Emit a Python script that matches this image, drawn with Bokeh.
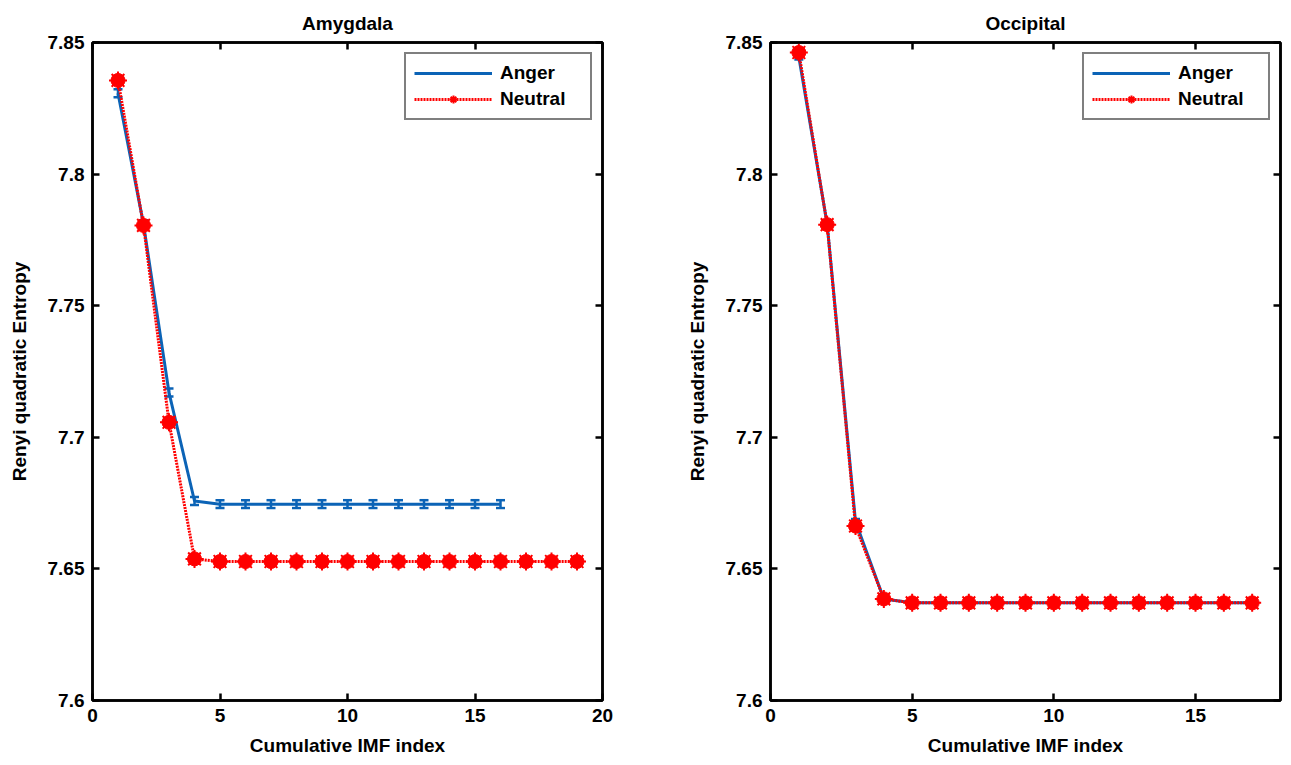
from bokeh.plotting import figure
from bokeh.layouts import row
from bokeh.models import (ColumnDataSource, Whisker, TeeHead, LinearAxis, FixedTicker,
                          NumeralTickFormatter, Legend, LegendItem, Range1d)
from bokeh.embed import file_html
from bokeh.resources import INLINE

# ---------------- data ----------------
amy_anger_x = list(range(1, 17))
amy_anger_y = [7.8307, 7.7810, 7.7170, 7.6758] + [7.6746] * 12
amy_anger_err = [0.0015] * 16
amy_neutral_x = list(range(1, 20))
amy_neutral_y = [7.8356, 7.7805, 7.7057, 7.6538] + [7.6528] * 15

occ_anger_x = list(range(1, 18))
occ_anger_y = [7.8445, 7.7810, 7.6680, 7.6386] + [7.6371] * 13
occ_anger_err = [0.0010] * 17
occ_neutral_x = list(range(1, 18))
occ_neutral_y = [7.8462, 7.7808, 7.6663, 7.6386] + [7.6371] * 13

titles = ["Amygdala", "Occipital"]
x_label = "Cumulative IMF index"
y_label = "Renyi quadratic Entropy"
y_ticks = [7.6, 7.65, 7.7, 7.75, 7.8, 7.85]
left_x_ticks = [0, 5, 10, 15, 20]
right_x_ticks = [0, 5, 10, 15]

BLUE = "#0b63b6"
RED = "#ff0000"
FONT = "Liberation Sans"
FS = "19px"


def style_axis(ax, ticks, show_labels=True):
    ax.ticker = FixedTicker(ticks=ticks)
    ax.axis_line_color = "black"
    ax.axis_line_width = 2.5
    ax.major_tick_line_color = "black"
    ax.major_tick_line_width = 2.5
    ax.major_tick_in = 7
    ax.major_tick_out = 0
    ax.minor_tick_line_color = None
    ax.major_label_text_font = FONT
    ax.major_label_text_font_style = "bold"
    if show_labels:
        ax.major_label_text_font_size = FS
        ax.major_label_text_color = "black"
        ax.major_label_standoff = 8
    else:
        ax.major_label_text_font_size = "1px"
        ax.major_label_text_color = None
        ax.major_label_standoff = 0
    ax.axis_label_text_font = FONT
    ax.axis_label_text_font_style = "bold"
    ax.axis_label_text_font_size = FS
    ax.axis_label_text_color = "black"


def make_panel(title, ax_x, ax_y, ax_e, nx, ny, xmax, xticks, width, bl, br):
    p = figure(width=width, height=758, output_backend="svg", toolbar_location=None,
               x_range=Range1d(0, xmax), y_range=Range1d(y_ticks[0], y_ticks[-1]),
               min_border_left=bl, min_border_right=br, min_border_top=42,
               min_border_bottom=56)
    p.title.text = title
    p.title.align = "center"
    p.title.text_font = FONT
    p.title.text_font_style = "bold"
    p.title.text_font_size = FS
    p.title.text_color = "black"
    p.title.standoff = 17
    p.xgrid.visible = False
    p.ygrid.visible = False
    p.outline_line_color = "black"
    p.outline_line_width = 2.5
    p.background_fill_color = "white"
    p.border_fill_color = "white"

    style_axis(p.xaxis[0], xticks)
    style_axis(p.yaxis[0], y_ticks)
    p.yaxis[0].formatter = NumeralTickFormatter(format="0.[00]")
    p.xaxis[0].axis_label = x_label
    p.yaxis[0].axis_label = y_label
    p.xaxis[0].axis_label_standoff = 10
    p.yaxis[0].axis_label_standoff = 15

    top = LinearAxis()
    style_axis(top, xticks, show_labels=False)
    p.add_layout(top, "above")
    right = LinearAxis()
    style_axis(right, y_ticks, show_labels=False)
    p.add_layout(right, "right")

    asrc = ColumnDataSource(dict(x=ax_x, y=ax_y,
                                 lo=[a - e for a, e in zip(ax_y, ax_e)],
                                 hi=[a + e for a, e in zip(ax_y, ax_e)]))
    nsrc = ColumnDataSource(dict(x=nx, y=ny))

    la = p.line("x", "y", source=asrc, line_color=BLUE, line_width=3)
    w = Whisker(base="x", lower="lo", upper="hi", source=asrc, dimension="height",
                line_color=BLUE, line_width=2.5,
                lower_head=TeeHead(size=9, line_color=BLUE, line_width=2.5),
                upper_head=TeeHead(size=9, line_color=BLUE, line_width=2.5))
    p.add_layout(w)

    ln = p.line("x", "y", source=nsrc, line_color=RED, line_width=3, line_dash="2 1")
    p.scatter("x", "y", source=nsrc, marker="circle", size=14, fill_color=RED,
              line_color=RED)
    sn = p.scatter("x", "y", source=nsrc, marker="asterisk", size=18, line_color=RED,
                   line_width=2)

    leg = Legend(items=[LegendItem(label="Anger", renderers=[la]),
                        LegendItem(label="Neutral", renderers=[ln, sn])],
                 location="top_right")
    leg.margin = 10
    leg.padding = 8
    leg.spacing = 4
    leg.glyph_width = 78
    leg.glyph_height = 20
    leg.label_standoff = 8
    leg.label_width = 82
    leg.label_text_font = FONT
    leg.label_text_font_style = "bold"
    leg.label_text_font_size = FS
    leg.label_text_color = "black"
    leg.border_line_color = "black"
    leg.border_line_width = 2
    leg.background_fill_color = "white"
    leg.background_fill_alpha = 1
    p.add_layout(leg, "center")
    return p


p1 = make_panel(titles[0], amy_anger_x, amy_anger_y, amy_anger_err,
                amy_neutral_x, amy_neutral_y, 20, left_x_ticks, 668, 92, 66)
p2 = make_panel(titles[1], occ_anger_x, occ_anger_y, occ_anger_err,
                occ_neutral_x, occ_neutral_y, 18, right_x_ticks, 615, 102, 3)

layout = row(p1, p2)
open("out.html", "w").write(file_html(layout, INLINE))
